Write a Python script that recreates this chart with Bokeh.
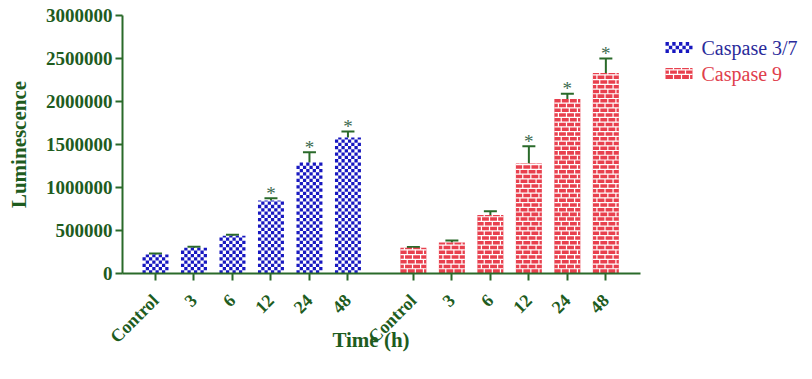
import math
from bokeh.plotting import figure
from bokeh.layouts import row
from bokeh.models import (Range1d, FixedTicker, Whisker, TeeHead, ColumnDataSource,
                          BasicTickFormatter)
from bokeh.core.properties import value
from bokeh.embed import file_html
from bokeh.resources import INLINE

# ---- data ----
time_labels = ["Control", "3", "6", "12", "24", "48"]
casp37 = [220000, 300000, 440000, 850000, 1290000, 1580000]
casp37_err = [12000, 10000, 10000, 25000, 120000, 70000]
casp37_sig = [False, False, False, True, True, True]
casp9 = [300000, 360000, 680000, 1280000, 2030000, 2330000]
casp9_err = [8000, 25000, 45000, 200000, 60000, 170000]
casp9_sig = [False, False, False, True, True, True]
series_names = ["Caspase 3/7", "Caspase 9"]
y_ticks = list(range(0, 3000001, 500000))

# ---- style ----
GREEN = "#1e5c1e"
AXIS_GREEN = "#2a6a2a"
BLUE = "#1818c0"
RED = "#e8404e"
STAR = "#3d6b4f"
LEG_BLUE = "#2a2a9a"
LEG_RED = "#e0404c"
SERIF = "Liberation Serif"
GROUP_GAP = 0.7
BAR_W = 0.675
# pattern cells (data units of the main plot)
NCOL = 8
CX = BAR_W / NCOL
CY = 38000
BRICK_H = 55000
BRICK_L = 0.21
FRAME_TOP, FRAME_BOTTOM = 15, 273

n = len(time_labels)
x37 = [round(i * 1.0, 2) for i in range(n)]
x9 = [round(n + GROUP_GAP + i, 2) for i in range(n)]

p = figure(width=641, height=379, output_backend="svg", toolbar_location=None,
           x_range=Range1d(-0.857, 12.6), y_range=Range1d(0, 3000000),
           min_border_left=122, min_border_right=1, min_border_top=FRAME_TOP,
           min_border_bottom=379 - FRAME_BOTTOM)
p.outline_line_color = None
p.xgrid.grid_line_color = None
p.ygrid.grid_line_color = None

def tops(vals, errs):
    return [v + e for v, e in zip(vals, errs)]

# ---- checker pattern bars (Caspase 3/7) ----
def checker(xs, vals, cx, cy, ncol):
    L, R, B, T = [], [], [], []
    for xc, v in zip(xs, vals):
        left = xc - ncol * cx / 2
        nrows = math.ceil(v / cy)
        for r in range(nrows):
            b = r * cy
            t = min((r + 1) * cy, v)
            for c in range(ncol):
                if (r + c) % 2 == 0:
                    L.append(left + c * cx); R.append(left + (c + 1) * cx)
                    B.append(b); T.append(t)
    return L, R, B, T

L, R, B, T = checker(x37, casp37, CX, CY, NCOL)
p.quad(left=L, right=R, bottom=B, top=T, fill_color=BLUE, line_color=None)

# ---- brick pattern bars (Caspase 9) ----
def bricks(xs, vals, width, bh, bl):
    hx0, hx1, hy = [], [], []
    vx, vy0, vy1 = [], [], []
    for xc, v in zip(xs, vals):
        left, right = xc - width / 2, xc + width / 2
        nrows = math.ceil(v / bh)
        for r in range(nrows):
            y0 = r * bh
            y1 = min((r + 1) * bh, v)
            if r > 0:
                hx0.append(left); hx1.append(right); hy.append(y0)
            xx = left + (bl / 2 if r % 2 else bl * 0.85)
            while xx < right - 0.02:
                vx.append(xx); vy0.append(y0); vy1.append(y1)
                xx += bl
    return hx0, hx1, hy, vx, vy0, vy1

p.vbar(x=x9, top=casp9, width=BAR_W, fill_color=RED, line_color=None)
hx0, hx1, hy, vx, vy0, vy1 = bricks(x9, casp9, BAR_W, BRICK_H, BRICK_L)
p.segment(x0=hx0, x1=hx1, y0=hy, y1=hy, line_color="white", line_width=1.2)
p.segment(x0=vx, x1=vx, y0=vy0, y1=vy1, line_color="white", line_width=1.2)

# ---- error bars ----
s37 = ColumnDataSource(dict(x=x37, top=casp37, up=tops(casp37, casp37_err)))
s9 = ColumnDataSource(dict(x=x9, top=casp9, up=tops(casp9, casp9_err)))
for src in (s37, s9):
    w = Whisker(base="x", lower="top", upper="up", source=src, dimension="height",
                line_color=AXIS_GREEN, line_width=2, lower_head=None,
                upper_head=TeeHead(size=13, line_color=AXIS_GREEN, line_width=2))
    p.add_layout(w)

# ---- significance stars ----
sx, sy = [], []
for xs, ups, sig in ((x37, tops(casp37, casp37_err), casp37_sig),
                     (x9, tops(casp9, casp9_err), casp9_sig)):
    for xx, uu, ss in zip(xs, ups, sig):
        if ss:
            sx.append(xx)
            sy.append(uu)
p.text(x=sx, y=sy, text=["*"] * len(sx), text_font=value(SERIF), text_font_size="19px",
       text_color=STAR, text_align="center", text_baseline="alphabetic", y_offset=-5)

# ---- axes ----
xa = p.xaxis[0]
xa.ticker = FixedTicker(ticks=x37 + x9)
xa.major_label_overrides = {t: lab for t, lab in zip(x37 + x9, time_labels + time_labels)}
xa.major_label_orientation = math.pi / 4
xa.axis_label = "Time (h)\u00a0\u00a0\u00a0\u00a0"
ya = p.yaxis[0]
ya.ticker = FixedTicker(ticks=y_ticks)
ya.formatter = BasicTickFormatter(use_scientific=False)
ya.axis_label = "Luminescence"

for ax in (xa, ya):
    ax.axis_line_color = AXIS_GREEN
    ax.axis_line_width = 2
    ax.major_tick_line_color = AXIS_GREEN
    ax.major_tick_line_width = 2
    ax.major_tick_out = 7
    ax.major_tick_in = 0
    ax.minor_tick_line_color = None
    ax.major_label_text_font = SERIF
    ax.major_label_text_font_style = "bold"
    ax.major_label_text_color = GREEN
    ax.axis_label_text_font = SERIF
    ax.axis_label_text_font_style = "bold"
    ax.axis_label_text_font_size = "21px"
    ax.axis_label_text_color = GREEN
xa.major_label_text_font_size = "18px"
xa.major_label_standoff = 17
xa.axis_label_standoff = -29
ya.major_label_text_font_size = "19px"
ya.major_label_standoff = 3
ya.axis_label_standoff = 12

# ---- legend panel (its frame is aligned with the main frame; units = pixels) ----
LEG_W = 171
pl = figure(width=LEG_W, height=379, output_backend="svg", toolbar_location=None,
            x_range=Range1d(0, LEG_W), y_range=Range1d(FRAME_BOTTOM, FRAME_TOP),
            x_axis_location=None, y_axis_location=None,
            min_border_left=0, min_border_right=0, min_border_top=FRAME_TOP,
            min_border_bottom=379 - FRAME_BOTTOM)
pl.grid.visible = False
pl.outline_line_color = None

GX, GW, GH = 24, 27, 11
ROW_Y = [47, 73]
# blue checker swatch
cl, cr, cb, ct = [], [], [], []
ncs, cs = 8, GW / 8
nrs = 3
ch = GH / nrs
for r in range(nrs):
    for c in range(ncs):
        if (r + c) % 2 == 0:
            cl.append(GX + c * cs); cr.append(GX + (c + 1) * cs)
            cb.append(ROW_Y[0] + GH / 2 - r * ch); ct.append(ROW_Y[0] + GH / 2 - (r + 1) * ch)
pl.quad(left=cl, right=cr, bottom=cb, top=ct, fill_color=BLUE, line_color=None)
# red brick swatch
pl.quad(left=[GX], right=[GX + GW], top=[ROW_Y[1] - GH / 2], bottom=[ROW_Y[1] + GH / 2],
        fill_color=RED, line_color=None)
bh = GH / 2.4
lx0, lx1, ly0, ly1 = [], [], [], []
yy = ROW_Y[1] + GH / 2
k = 0
while yy - bh > ROW_Y[1] - GH / 2:
    y_next = yy - bh
    lx0.append(GX); lx1.append(GX + GW); ly0.append(y_next); ly1.append(y_next)
    xx = GX + (4 if k % 2 else 8)
    while xx < GX + GW - 1:
        lx0.append(xx); lx1.append(xx); ly0.append(yy); ly1.append(y_next)
        xx += 8
    yy = y_next
    k += 1
xx = GX + (4 if k % 2 else 8)
while xx < GX + GW - 1:
    lx0.append(xx); lx1.append(xx); ly0.append(yy); ly1.append(ROW_Y[1] - GH / 2)
    xx += 8
pl.segment(x0=lx0, x1=lx1, y0=ly0, y1=ly1, line_color="white", line_width=1.2)

pl.text(x=[GX + GW + 9] * 2, y=ROW_Y, text=series_names, text_font=value(SERIF),
        text_font_size="20px", text_color=[LEG_BLUE, LEG_RED], text_baseline="middle",
        text_align="left")

layout = row(p, pl, spacing=0)
open("out.html", "w").write(file_html(layout, INLINE))
